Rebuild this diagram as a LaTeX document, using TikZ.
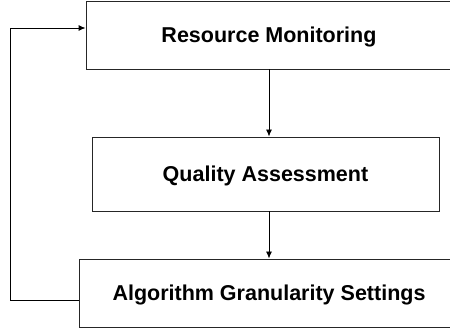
\documentclass[tikz,border=0pt]{standalone}
\usepackage{fontspec}
\setmainfont{Liberation Sans}
\usepackage{tikz}
\usetikzlibrary{arrows,arrows.meta,shapes,calc}
\tikzstyle{block}=[draw=black!85,line width=0.9pt,rectangle,inner sep=0pt,text depth=0pt,font=\fontsize{21.5}{24}\selectfont\bfseries]
\tikzstyle{link} = [draw,line width=0.9pt,-{Latex[length=7pt,width=6pt]}]

\begin{document}
\begin{tikzpicture}[x=1pt,y=-1pt]
    % keep the frame of the reference
    \useasboundingbox (0,0) rectangle (450,331);
    % First we draw the blocks
    \node[block,minimum width=366pt,minimum height=68pt] (RM) at (269,35) {Resource Monitoring};
    \node[block,minimum width=347pt,minimum height=74pt] (QA) at (265.5,174) {Quality Assessment};
    \node[block,minimum width=380pt,minimum height=68pt] (AGS) at (269,293) {Algorithm Granularity Settings};
    % Connect blocks with arrows
    \path[link] (RM.south) -- (RM.south |- QA.north);
    \path[link] (RM.south |- QA.south) -- (RM.south |- AGS.north);
    % feedback back to the top
    \coordinate (fbout) at ($(AGS.west)+(0,7)$);
    \coordinate (fbin) at ($(RM.west)+(0,-7)$);
    \path[link] (fbout) -- ++(-68,0) |- (fbin);
\end{tikzpicture}
\end{document}
